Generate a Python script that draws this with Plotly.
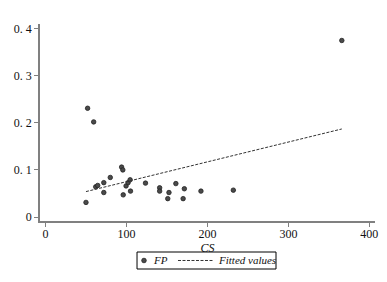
import plotly.graph_objects as go

# Data
cs = [50, 52, 59.5, 62, 64.5, 72, 72, 80, 94, 95.5, 96, 99.5, 102, 104.5, 105,
      123.5, 141, 141, 151, 152.5, 161, 170, 171.5, 192, 232, 366]
fp = [0.031, 0.231, 0.202, 0.064, 0.067, 0.073, 0.052, 0.084, 0.106, 0.100, 0.047,
      0.066, 0.073, 0.079, 0.055, 0.072, 0.062, 0.055, 0.039, 0.052, 0.071, 0.039,
      0.060, 0.055, 0.057, 0.375]
fit_x = [50, 366]
fit_y = [0.054, 0.187]

x_ticks = [0, 100, 200, 300, 400]
y_ticks = [0, 0.1, 0.2, 0.3, 0.4]
y_ticktext = ["0", "0. 1", "0. 2", "0. 3", "0. 4"]
legend_labels = ["FP", "Fitted values"]

FONT = "Liberation Serif"
MARK = "#4a4a4a"
LINE = "#333333"

fig = go.Figure()
fig.add_trace(go.Scatter(
    x=cs, y=fp, mode="markers", name=legend_labels[0], showlegend=False,
    marker=dict(symbol="circle", size=4.5, color=MARK,
                line=dict(color="#222222", width=0.8)),
))
fig.add_trace(go.Scatter(
    x=fit_x, y=fit_y, mode="lines", name=legend_labels[1], showlegend=False,
    line=dict(color=LINE, width=1, dash="3px,1.5px"),
))

# compact boxed legend (Stata style) drawn in paper coordinates
ly = -0.2005
shapes = [
    dict(type="rect", xref="paper", yref="paper", x0=0.2896, x1=0.7045,
         y0=-0.2437, y1=-0.1574, line=dict(color="#000000", width=1),
         fillcolor="white", layer="above"),
    dict(type="circle", xref="paper", yref="paper", xsizemode="pixel",
         ysizemode="pixel", xanchor=0.3104, yanchor=ly, x0=-2.3, x1=2.3,
         y0=-2.3, y1=2.3, fillcolor=MARK, line=dict(color="#222222", width=0.8)),
    dict(type="line", xref="paper", yref="paper", x0=0.4119, x1=0.5164,
         y0=ly, y1=ly, line=dict(color=LINE, width=1, dash="3px,1.5px")),
]
annotations = [
    dict(text="<i>%s</i>" % legend_labels[0], xref="paper", yref="paper",
         x=0.3313, y=ly, xanchor="left", yanchor="middle", showarrow=False,
         font=dict(family=FONT, size=11)),
    dict(text="<i>%s</i>" % legend_labels[1], xref="paper", yref="paper",
         x=0.5254, y=ly, xanchor="left", yanchor="middle", showarrow=False,
         font=dict(family=FONT, size=11)),
]

# page body has an 8px default margin, so the figure is sized/placed to compensate
fig.update_layout(
    width=371, height=266,
    margin=dict(l=32, r=4, t=16, b=53, autoexpand=False),
    paper_bgcolor="white", plot_bgcolor="white",
    font=dict(family=FONT, size=12, color="#111111"),
    showlegend=False,
    shapes=shapes, annotations=annotations,
    xaxis=dict(range=[-6.8, 407], tickvals=x_ticks, showgrid=False, zeroline=False,
               showline=True, linecolor="#808080", linewidth=1.5, automargin=True,
               ticks="outside", ticklen=4, tickcolor="#808080", tickwidth=1,
               ticklabelstandoff=-3,
               title=dict(text="<i>CS</i>", standoff=0, font=dict(family=FONT, size=12))),
    yaxis=dict(range=[-0.0085, 0.41], tickvals=y_ticks, ticktext=y_ticktext,
               showgrid=False, zeroline=False, automargin=False,
               showline=True, linecolor="#808080", linewidth=1.5,
               ticks="outside", ticklen=4, tickcolor="#808080", tickwidth=1),
)

fig.write_html("out.html")
